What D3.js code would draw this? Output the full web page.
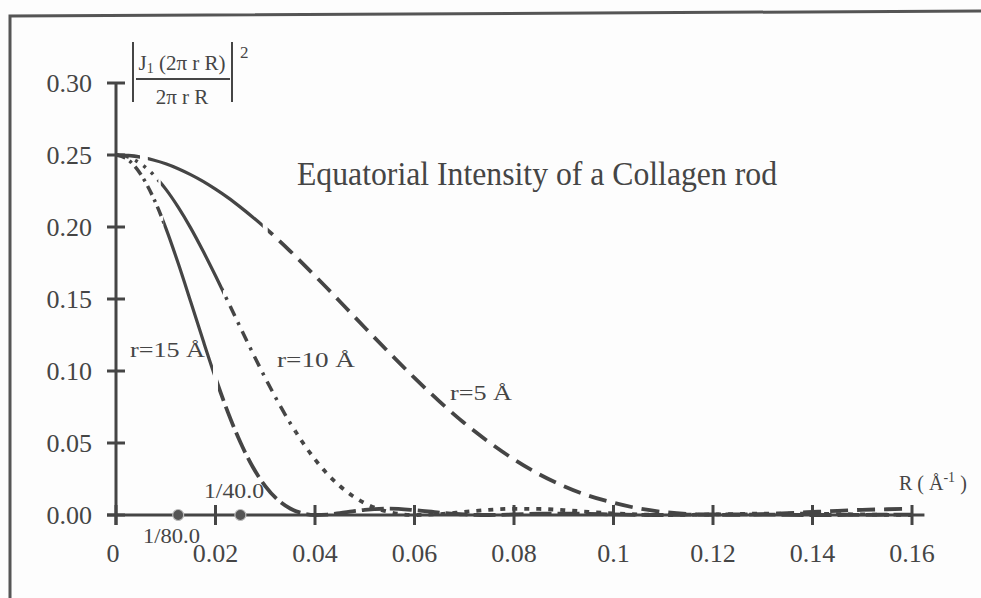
<!DOCTYPE html>
<html>
<head>
<meta charset="utf-8">
<script src="https://cdn.jsdelivr.net/npm/d3@7"></script>
<style>
  html, body { margin: 0; padding: 0; background: #fdfdfd; }
  svg { display: block; }
  text { font-family: "Liberation Serif", "DejaVu Serif", serif; fill: #454545; }
</style>
</head>
<body>
<svg id="chart" width="981" height="598"></svg>
<script>
// ---- data ----
const R = [0, 0.0025, 0.005, 0.0075, 0.01, 0.0125, 0.015, 0.0175, 0.02, 0.0225, 0.025, 0.0275, 0.03, 0.0325, 0.035, 0.0375, 0.04, 0.0425, 0.045, 0.0475, 0.05,
  0.055, 0.06, 0.065, 0.07, 0.075, 0.08, 0.085, 0.09, 0.095, 0.1, 0.105, 0.11, 0.115, 0.12, 0.125, 0.13, 0.135, 0.14, 0.145, 0.15, 0.155, 0.16];
const r5 = [0.25, 0.2496, 0.2485, 0.2465, 0.2439, 0.2405, 0.2364, 0.2317, 0.2263, 0.2204, 0.2138, 0.2068, 0.1994, 0.1915, 0.1833, 0.1748, 0.1661, 0.1573, 0.1483, 0.1392, 0.1302,
  0.1124, 0.0952, 0.0789, 0.0639, 0.0505, 0.0386, 0.0284, 0.0201, 0.0134, 0.0085, 0.0046, 0.0021, 0.0007, 0.0001, 0.0001, 0.0006, 0.0013, 0.0021, 0.0029, 0.0036, 0.0040, 0.0043];
const r10 = [0.25, 0.2485, 0.2439, 0.2364, 0.2263, 0.2138, 0.1994, 0.1833, 0.1661, 0.1483, 0.1302, 0.1124, 0.0952, 0.0789, 0.0639, 0.0505, 0.0386, 0.0284, 0.0201, 0.0134, 0.0082,
  0.0020, 0.0000, 0.0006, 0.0021, 0.0036, 0.0043, 0.0042, 0.0034, 0.0022, 0.0011, 0.0004, 0.0000, 0.0001, 0.0004, 0.0007, 0.0010, 0.0010, 0.0009, 0.0006, 0.0004, 0.0001, 0.0000];
const r15 = [0.25, 0.2465, 0.2364, 0.2204, 0.1994, 0.1748, 0.1483, 0.1213, 0.0952, 0.0713, 0.0505, 0.0333, 0.0201, 0.0106, 0.0045, 0.0012, 0.0000, 0.0003, 0.0013, 0.0025, 0.0036,
  0.0044, 0.0034, 0.0017, 0.0004, 0.0000, 0.0004, 0.0009, 0.0010, 0.0008, 0.0004, 0.0001, 0.0000, 0.0002, 0.0004, 0.0004, 0.0003, 0.0001, 0.0000, 0.0000, 0.0001, 0.0002, 0.0002];
const xTicks = [0, 0.02, 0.04, 0.06, 0.08, 0.1, 0.12, 0.14, 0.16];
const xTickLabels = ["0", "0.02", "0.04", "0.06", "0.08", "0.1", "0.12", "0.14", "0.16"];
const yTicks = [0, 0.05, 0.10, 0.15, 0.20, 0.25, 0.30];
const yTickLabels = ["0.00", "0.05", "0.10", "0.15", "0.20", "0.25", "0.30"];
const markerR = [1 / 80, 1 / 40];
const markerLabels = ["1/80.0", "1/40.0"];
const seriesNames = ["r=5 Å", "r=10 Å", "r=15 Å"];

// ---- drawing ----
const ink = "#454545";
const svg = d3.select("#chart");
const x = d3.scaleLinear().domain([0, 0.16]).range([116, 912]);
const y = d3.scaleLinear().domain([0, 0.30]).range([515, 83]);

// scanned frame
svg.append("path")
  .attr("d", "M10,598 L10,16 L981,11")
  .attr("fill", "none").attr("stroke", "#555").attr("stroke-width", 3);

const defs = svg.append("defs");
let clipId = 0;
function clipRange(a, b) {
  const id = "clip" + (clipId++);
  defs.append("clipPath").attr("id", id).append("rect")
    .attr("x", x(a)).attr("y", 0).attr("width", x(b) - x(a)).attr("height", 598);
  return "url(#" + id + ")";
}

const line = d3.line().x(d => x(d[0])).y(d => y(d[1])).curve(d3.curveMonotoneX);
const series = [
  { vals: r5, styles: [
      { a: 0, b: 0.0048, dash: null, w: 3.5 },
      { a: 0.0064, b: 0.0295, dash: null, w: 3.2 },
      { a: 0.0305, b: 0.17, dash: "18,9", w: 3.8 }] },
  { vals: r10, styles: [
      { a: 0, b: 0.0085, dash: "3,7", w: 3.5 },
      { a: 0.0090, b: 0.0215, dash: null, w: 3.2 },
      { a: 0.0215, b: 0.036, dash: "11,7,3,7", w: 3.5 },
      { a: 0.036, b: 0.17, dash: "5,7", w: 3.8 }] },
  { vals: r15, styles: [
      { a: 0, b: 0.0095, dash: "10,5,3,5", w: 3.5 },
      { a: 0.0095, b: 0.0195, dash: null, w: 3.2 },
      { a: 0.0205, b: 0.17, dash: "22,6", w: 3.8 }] }
];
series.forEach(s => {
  const pts = R.map((r, i) => [r, s.vals[i]]);
  s.styles.forEach(st => {
    svg.append("path")
      .attr("d", line(pts))
      .attr("clip-path", clipRange(st.a, st.b))
      .attr("fill", "none")
      .attr("stroke", ink)
      .attr("stroke-width", st.w)
      .attr("stroke-linecap", "butt")
      .attr("stroke-dasharray", st.dash);
  });
});

// axes
const axisG = svg.append("g");
axisG.append("line").attr("x1", x(0)).attr("x2", x(0)).attr("y1", y(0.30)).attr("y2", y(0) + 10)
  .attr("stroke", ink).attr("stroke-width", 3);
axisG.append("line").attr("x1", x(0) - 9).attr("x2", x(0.1625)).attr("y1", y(0)).attr("y2", y(0))
  .attr("stroke", ink).attr("stroke-width", 3);
yTicks.forEach((t, i) => {
  axisG.append("line").attr("x1", x(0) - 9).attr("x2", x(0) + 9).attr("y1", y(t)).attr("y2", y(t))
    .attr("stroke", ink).attr("stroke-width", 3);
  axisG.append("text").attr("x", 92).attr("y", y(t) + 9).attr("text-anchor", "end")
    .attr("font-size", 26).text(yTickLabels[i]);
});
xTicks.forEach((t, i) => {
  axisG.append("line").attr("x1", x(t)).attr("x2", x(t)).attr("y1", y(0) - 10).attr("y2", y(0) + 10)
    .attr("stroke", ink).attr("stroke-width", 3);
  axisG.append("text").attr("x", x(t) + (i === 0 ? -3 : 0)).attr("y", 562).attr("text-anchor", "middle")
    .attr("font-size", 26).text(xTickLabels[i]);
});

// markers 1/80, 1/40
markerR.forEach((m, i) => {
  svg.append("circle").attr("cx", x(m)).attr("cy", y(0)).attr("r", 5.5)
    .attr("fill", "#555").attr("stroke", "#bbb").attr("stroke-width", 1.2);
});
svg.append("text").attr("x", 143).attr("y", 543).attr("font-size", 20)
  .attr("textLength", 57).attr("lengthAdjust", "spacingAndGlyphs").text(markerLabels[0]);
svg.append("text").attr("x", 204).attr("y", 498).attr("font-size", 20)
  .attr("textLength", 60).attr("lengthAdjust", "spacingAndGlyphs").text(markerLabels[1]);

// series labels
const lab = [
  { t: seriesNames[0], x0: 450, y0: 400, w: 62 },
  { t: seriesNames[1], x0: 277, y0: 367, w: 78 },
  { t: seriesNames[2], x0: 130, y0: 357, w: 75 }
];
lab.forEach(l => {
  svg.append("text").attr("x", l.x0).attr("y", l.y0).attr("font-size", 20)
    .attr("textLength", l.w).attr("lengthAdjust", "spacingAndGlyphs").text(l.t);
});

// title
svg.append("text").attr("x", 297).attr("y", 185).attr("font-size", 33)
  .attr("textLength", 480).attr("lengthAdjust", "spacingAndGlyphs")
  .text("Equatorial Intensity of a Collagen rod");

// axis unit label
const ru = svg.append("text").attr("x", 899).attr("y", 490).attr("font-size", 20);
ru.append("tspan").text("R ( Å");
ru.append("tspan").attr("dy", -8).attr("font-size", 14).text("-1");
ru.append("tspan").attr("dy", 8).text(" )");

// y-axis quantity label |J1(2πrR)/(2πrR)|^2
const fr = svg.append("g");
fr.append("line").attr("x1", 133).attr("x2", 133).attr("y1", 42).attr("y2", 102).attr("stroke", ink).attr("stroke-width", 2);
fr.append("line").attr("x1", 232).attr("x2", 232).attr("y1", 42).attr("y2", 102).attr("stroke", ink).attr("stroke-width", 2);
fr.append("line").attr("x1", 136).attr("x2", 230).attr("y1", 79).attr("y2", 79).attr("stroke", ink).attr("stroke-width", 2);
const num = fr.append("text").attr("x", 182).attr("y", 70).attr("text-anchor", "middle").attr("font-size", 21);
num.append("tspan").text("J");
num.append("tspan").attr("font-size", 14).attr("dy", 3).text("1");
num.append("tspan").attr("dy", -3).text(" (2π r R)");
fr.append("text").attr("x", 182).attr("y", 104).attr("text-anchor", "middle").attr("font-size", 21).text("2π r R");
fr.append("text").attr("x", 240).attr("y", 58).attr("font-size", 17).text("2");
</script>
</body>
</html>
